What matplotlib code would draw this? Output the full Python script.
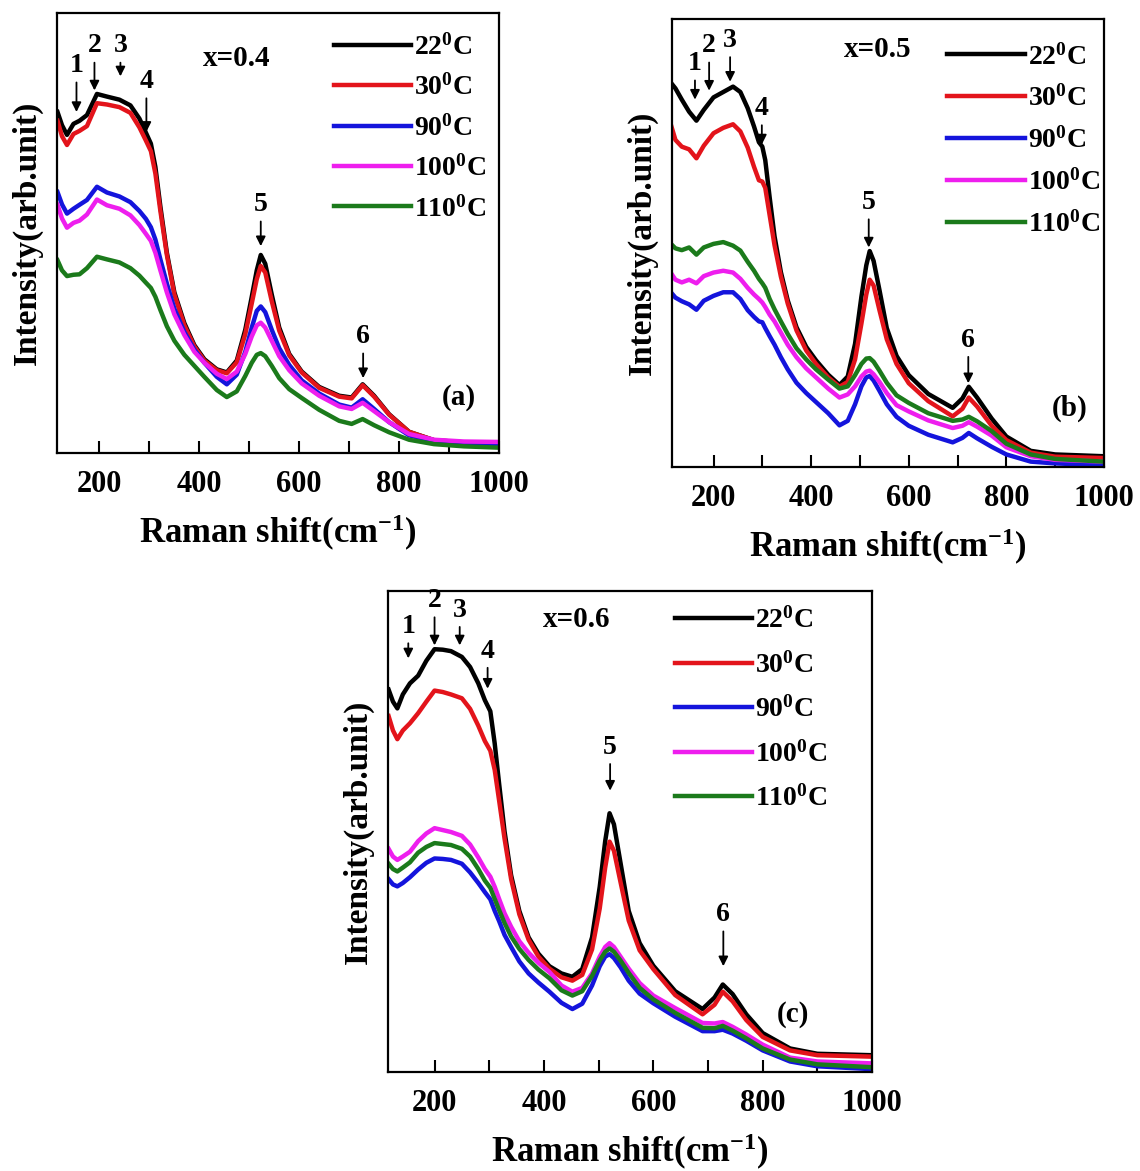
#!/usr/bin/env python3
"""Raman spectra vs temperature for x=0.4, 0.5, 0.6 (three panels)."""
import matplotlib
matplotlib.use("Agg")
import matplotlib.pyplot as plt
from matplotlib.ticker import MultipleLocator

plt.rcParams["font.family"] = ["Liberation Serif", "DejaVu Serif"]
plt.rcParams["font.weight"] = "bold"
plt.rcParams["axes.labelweight"] = "bold"
plt.rcParams["mathtext.fontset"] = "custom"
plt.rcParams["mathtext.rm"] = "Liberation Serif:bold"
plt.rcParams["mathtext.it"] = "Liberation Serif:bold"
plt.rcParams["mathtext.bf"] = "Liberation Serif:bold"

temps = ["22", "30", "90", "100", "110"]
colors = ["#000000", "#e3141b", "#1414dc", "#ee1eee", "#1b7a1b"]

# intensity in arb. units (0-100 across the plot height)
shift_a = [116, 125, 135, 148, 160, 175, 195, 215, 240, 262,
           280, 293, 303, 312, 322, 335, 350, 370, 390, 410,
           435, 455, 475, 492, 505, 515, 523, 532, 545, 560,
           580, 605, 640, 680, 705, 727, 750, 780, 820, 870,
           930, 1000]
a_22 = [77.5, 74.5, 72.3, 74.8, 75.5, 76.8, 81.6, 81, 80.3, 79,
        76, 72.8, 70.3, 65, 56, 45.5, 36.5, 29.5, 24.5, 21.3,
        19, 18.3, 21, 28, 35.5, 41.5, 45, 43, 36, 28.5,
        22.5, 18.5, 15, 13, 12.6, 15.6, 13, 8.8, 4.8, 2.9,
        2.4, 2.3]
a_30 = [75.5, 72, 70, 72.5, 73.2, 74.3, 79.5, 79.2, 78.6, 77.3,
        74, 71, 68.6, 63.5, 55, 45, 36, 29, 24.2, 21,
        18.8, 18.1, 20.6, 27, 34, 39.5, 42.5, 41, 34.5, 27.8,
        22.2, 18.3, 14.8, 12.8, 12.4, 15.4, 12.8, 8.7, 4.8, 2.9,
        2.4, 2.3]
a_90 = [59.3, 56.5, 54.4, 55.5, 56.4, 57.5, 60.5, 59.2, 58.3, 57,
        55, 53.2, 51.3, 48.5, 44, 38.5, 32.8, 27.5, 23.5, 20.5,
        17.3, 15.6, 17.8, 23, 28.5, 32.3, 33.3, 32, 28, 23.8,
        20, 16.5, 13.5, 11, 10.3, 12.2, 10, 7, 4, 2.6,
        2.1, 2]
a_100 = [56.4, 53.3, 51.2, 52.3, 52.8, 54.2, 57.6, 56.3, 55.5, 54,
         51.8, 49.8, 48.2, 45.5, 41.5, 36.5, 31.5, 26.8, 23, 20.5,
         18, 16.8, 18.5, 22.5, 26.5, 29, 29.6, 28.5, 25.5, 22,
         18.8, 15.8, 13, 10.6, 10, 11.4, 9.5, 7, 4.3, 3,
         2.6, 2.5]
a_110 = [43.8, 41.5, 40.2, 40.5, 40.6, 42, 44.6, 44, 43.3, 42,
         40.3, 38.7, 37.5, 35.5, 32.5, 28.8, 25.5, 22.3, 19.8, 17.3,
         14.3, 12.7, 14, 17.5, 20.5, 22.3, 22.7, 22, 19.8, 17,
         14.5, 12.5, 9.8, 7.3, 6.6, 7.7, 6.3, 4.7, 3, 2,
         1.5, 1.2]

shift_b = [111, 122, 135, 150, 165, 180, 200, 220, 240, 255,
           270, 283, 293, 300, 306, 315, 325, 338, 352, 370,
           390, 410, 435, 458, 475, 490, 503, 513, 520, 528,
           540, 555, 575, 600, 640, 690, 710, 723, 740, 770,
           800, 850, 900, 1000]
b_22 = [86, 84.5, 82, 79.3, 77.3, 79.7, 82.5, 83.7, 84.9, 83.7,
        80.1, 76, 72.5, 71.5, 68.5, 60.2, 51.5, 43.5, 37.2, 31.2,
        26.8, 23.8, 20.6, 18.3, 20.2, 27.5, 38, 45, 48.2, 46,
        39.5, 31, 24.8, 20.5, 16.3, 13.2, 15.3, 17.9, 15.5, 10.8,
        6.8, 3.6, 2.8, 2.4]
b_30 = [77, 73, 71.5, 70.9, 68.9, 71.7, 74.5, 75.7, 76.5, 74.9,
        71.3, 67, 64, 63.7, 62.3, 56.2, 49.5, 42.5, 36.5, 30.5,
        26, 23, 20, 17.9, 19, 24, 32, 38.5, 41.8, 40.5,
        35, 28.5, 23, 18.7, 14.7, 11.3, 13, 15.5, 13.5, 9.2,
        6, 3.2, 2.3, 2]
b_90 = [39.2, 37.8, 37, 36.3, 35.1, 37.1, 38.2, 39, 39, 37.5,
        35, 33.5, 32.5, 32.3, 31, 29.2, 27.3, 24.5, 21.8, 18.8,
        16.5, 14.5, 12, 9.3, 10.3, 14, 18, 20, 20.3, 19.3,
        17, 14, 11.2, 9.2, 7.2, 5.5, 6.5, 7.6, 6.4, 4.5,
        2.8, 1.2, 0.8, 0.4]
b_100 = [43.6, 41.8, 41.2, 41.8, 41, 42.6, 43.4, 43.8, 43.4, 42,
         40, 38.5, 37.5, 36.7, 35.7, 34, 32.5, 30, 27.3, 24.5,
         22, 20, 17.5, 15.5, 16.2, 18, 20.2, 21.3, 21.5, 20.7,
         19, 16.5, 13.8, 12.4, 10.4, 8.7, 9.2, 10, 9, 7,
         4.4, 2.4, 1.6, 1.2]
b_110 = [50, 48.8, 48.4, 49, 47.4, 49, 49.8, 50.2, 49.4, 48.3,
         45.8, 43.8, 42, 41, 40, 37.5, 35.2, 32.5, 29.7, 26.5,
         24, 21.8, 19.5, 17.5, 18, 20.5, 23, 24.2, 24.3, 23.5,
         21.5, 18.8, 16, 14.3, 12, 10.3, 10.6, 11.2, 10.2, 8,
         5.2, 2.8, 1.8, 1.2]

shift_c = [116, 124, 132, 142, 155, 170, 185, 200, 215, 230,
           250, 265, 280, 292, 302, 310, 318, 328, 340, 355,
           372, 390, 410, 432, 452, 470, 488, 502, 512, 520,
           528, 540, 555, 575, 600, 640, 690, 712, 727, 745,
           770, 800, 850, 900, 1000]
c_22 = [79.5, 77, 75.6, 78.5, 80.8, 82.4, 85.5, 87.9, 87.8, 87.5,
        86.3, 84.2, 80.8, 77.3, 75, 68.3, 60, 50, 40.9, 33.5,
        28, 24.6, 22, 20.5, 19.8, 21.4, 28, 38.5, 48, 53.8,
        51.5, 43.5, 33.5, 26.8, 22.1, 16.8, 13.1, 15.5, 18.2, 16.2,
        12, 8.1, 4.9, 3.8, 3.5]
c_30 = [74, 71, 69.2, 71, 72.5, 74.6, 77, 79.3, 79, 78.5,
        77.7, 75.5, 72, 68.8, 66.8, 62.8, 56.5, 48.5, 40.1, 32.8,
        27.5, 24, 21.5, 19.7, 19, 20.2, 25.5, 34, 42.5, 47.9,
        46, 39.5, 31.5, 25.3, 21.4, 16, 12, 14, 16.7, 14.7,
        10.8, 7.3, 4.5, 3.5, 3.2]
c_90 = [40.1, 39, 38.6, 39.3, 40.5, 42.1, 43.5, 44.4, 44.3, 44.1,
        43.3, 41.5, 39.3, 37.4, 35.9, 33.5, 31.4, 28.5, 26, 23,
        20.5, 18.6, 16.7, 14.4, 13.1, 14.2, 18, 22, 24, 24.5,
        23.7, 21.8, 19, 16.3, 14.3, 11.5, 8.5, 8.5, 8.8, 8,
        6.5, 4.5, 2.2, 1.2, 0.6]
c_100 = [46.4, 44.8, 44.1, 44.8, 45.8, 48, 49.6, 50.7, 50.3, 49.9,
         49.1, 47.3, 44.6, 42.2, 40.6, 38.5, 36, 33, 30.2, 27.2,
         24.8, 22.7, 20.8, 18, 16.7, 17.5, 20.5, 24, 26, 26.8,
         26, 24, 21.5, 18.5, 15.9, 13.3, 10.2, 10.1, 10.4, 9.4,
         7.8, 5.7, 3, 2.2, 1.8]
c_110 = [43.3, 42.2, 41.7, 42.5, 43.6, 45.6, 46.8, 47.6, 47.4, 47.2,
         46.4, 44.8, 42.2, 39.8, 38.3, 36, 33.7, 31, 28.2, 25.6,
         23.3, 21.3, 19.5, 17, 15.9, 16.8, 20, 23.2, 25, 25.7,
         25, 23.2, 20.6, 17.5, 15.1, 12.3, 9.2, 9.1, 9.6, 8.6,
         7, 4.9, 2.6, 1.6, 1]

# peak markers: Raman shift of each numbered band
peaks_a = [154, 190, 242, 294, 523, 728]
peaks_b = [162, 191, 234, 299, 518, 722]
peaks_c = [152, 200, 246, 297, 521, 728]

panels = [
    dict(rect=[0.0500, 0.6132, 0.3877, 0.3757], x=shift_a,
         ys=[a_22, a_30, a_90, a_100, a_110], comp="x=0.4", tag="(a)",
         peaks=peaks_a,
         arrow_y=[(0.88, 0.775), (0.925, 0.824), (0.925, 0.856), (0.844, 0.73),
                  (0.564, 0.47), (0.264, 0.17)],
         comp_xy=(0.407, 0.897), tag_xy=(0.908, 0.126),
         leg_xy=(0.626, 0.952), leg_sp=0.5),
    dict(rect=[0.5895, 0.6012, 0.3789, 0.3826], x=shift_b,
         ys=[b_22, b_30, b_90, b_100, b_110], comp="x=0.5", tag="(b)",
         peaks=peaks_b,
         arrow_y=[(0.90, 0.82), (0.94, 0.84), (0.952, 0.86), (0.80, 0.72),
                  (0.59, 0.49), (0.283, 0.187)],
         comp_xy=(0.475, 0.932), tag_xy=(0.921, 0.131),
         leg_xy=(0.637, 0.945), leg_sp=0.55),
    dict(rect=[0.3404, 0.0845, 0.4246, 0.4108], x=shift_c,
         ys=[c_22, c_30, c_90, c_100, c_110], comp="x=0.6", tag="(c)",
         peaks=peaks_c,
         arrow_y=[(0.926, 0.86), (0.98, 0.887), (0.96, 0.887), (0.875, 0.797),
                  (0.675, 0.585), (0.327, 0.22)],
         comp_xy=(0.39, 0.941), tag_xy=(0.837, 0.12),
         leg_xy=(0.592, 0.966), leg_sp=0.65),
]

fig = plt.figure(figsize=(11.4, 11.71), dpi=100)
for p in panels:
    ax = fig.add_axes(p["rect"])
    for t, y, c in zip(temps, p["ys"], colors):
        ax.plot(p["x"], y, color=c, lw=3.2, label=f"{t}$^0$C",
                solid_joinstyle="round")
    ax.set_xlim(115, 1000)
    ax.set_ylim(0, 100)
    ax.xaxis.set_major_locator(MultipleLocator(200))
    ax.xaxis.set_minor_locator(MultipleLocator(100))
    ax.tick_params(axis="x", which="both", direction="in", length=9, width=1.5,
                   labelsize=22, pad=12)
    ax.tick_params(axis="y", left=False, labelleft=False)
    for s in ax.spines.values():
        s.set_linewidth(1.6)
    ax.set_xlabel("Raman shift(cm$^{-1}$)", fontsize=25, labelpad=10)
    ax.set_ylabel("Intensity(arb.unit)", fontsize=24, labelpad=10)

    for i, (px, (ly, ty)) in enumerate(zip(p["peaks"], p["arrow_y"])):
        ax.annotate(str(i + 1), xy=(px, ty), xytext=(px, ly),
                    xycoords=("data", "axes fraction"),
                    textcoords=("data", "axes fraction"),
                    ha="center", va="center", fontsize=20,
                    arrowprops=dict(arrowstyle="-|>", color="black", lw=1.3,
                                    mutation_scale=14, shrinkA=1, shrinkB=0))

    ax.text(*p["comp_xy"], p["comp"], transform=ax.transAxes, ha="center",
            va="center", fontsize=21)
    ax.text(*p["tag_xy"], p["tag"], transform=ax.transAxes, ha="center",
            va="center", fontsize=21)
    ax.legend(loc="upper left", bbox_to_anchor=p["leg_xy"], frameon=False,
              fontsize=20, handlelength=2.8, handletextpad=0.1,
              labelspacing=p["leg_sp"], borderpad=0, borderaxespad=0)

fig.savefig("out.png", dpi=100)
